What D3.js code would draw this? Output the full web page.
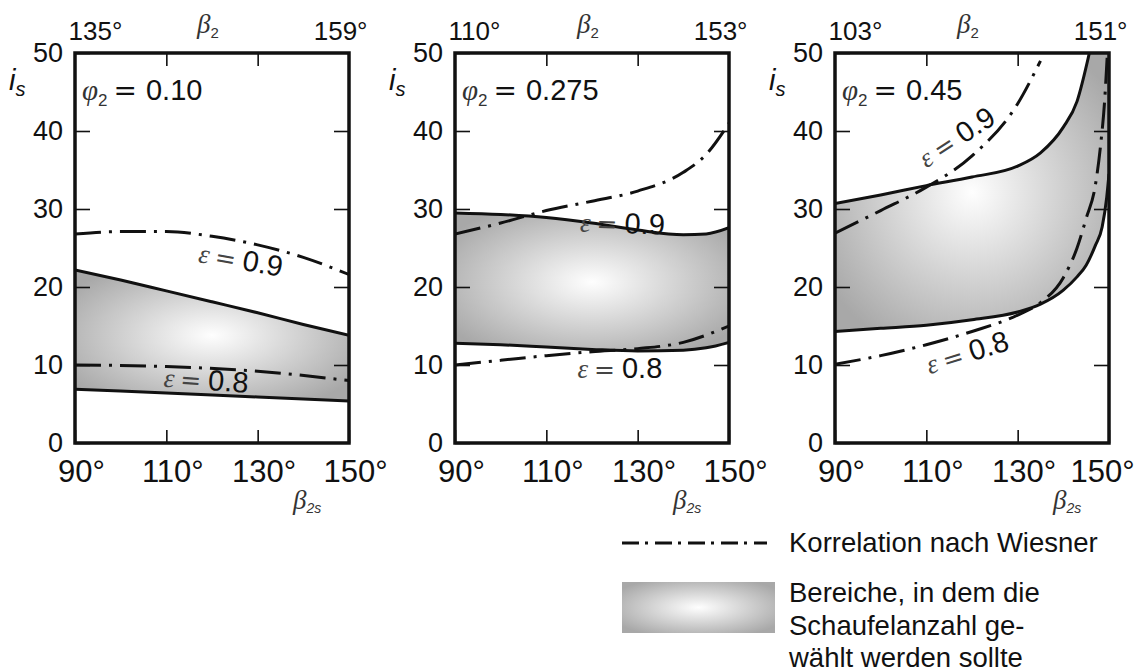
<!DOCTYPE html>
<html><head><meta charset="utf-8">
<script src="https://cdn.jsdelivr.net/npm/d3@7"></script>
<style>
body{margin:0;background:#fff}
svg{display:block}
text{font-family:"Liberation Sans",Arial,Helvetica,sans-serif;fill:#111}
</style>
</head><body>
<svg id="c" width="1143" height="672"></svg>
<script>
// ---------------- data ----------------
const xTicks = [90, 110, 130, 150];          // beta_2s (deg)
const yTicks = [0, 10, 20, 30, 40, 50];      // i_s
const phiLabels = ["0.10", "0.275", "0.45"];
const beta2Ends = [[135, 159], [110, 153], [103, 151]];

// panel 1 (phi2 = 0.10)
const p1UpperX = [90, 100, 110, 120, 130, 140, 150];
const p1Upper  = [22.2, 20.9, 19.5, 18.1, 16.7, 15.2, 13.8];
const p1LowerX = [90, 110, 130, 150];
const p1Lower  = [6.9, 6.4, 5.9, 5.4];
const p1E09X   = [90, 100, 110, 120, 130, 140, 150];
const p1E09    = [26.8, 27.1, 27.1, 26.5, 25.4, 23.8, 21.6];
const p1E08X   = [90, 110, 130, 150];
const p1E08    = [10.0, 9.8, 9.2, 8.0];

// panel 2 (phi2 = 0.275)
const p2UpperX = [90, 100, 110, 120, 130, 140, 145, 150];
const p2Upper  = [29.5, 29.3, 28.9, 28.2, 27.3, 26.7, 26.8, 27.6];
const p2LowerX = [90, 100, 110, 120, 130, 140, 145, 150];
const p2Lower  = [12.8, 12.6, 12.3, 12.0, 11.8, 11.9, 12.2, 12.9];
const p2E09X   = [90, 100, 110, 120, 130, 140, 145, 150];
const p2E09    = [26.8, 28.2, 29.8, 31.0, 32.3, 34.7, 37.0, 41.0];
const p2E08X   = [90, 100, 110, 120, 130, 140, 150];
const p2E08    = [10.0, 10.6, 11.2, 11.7, 12.1, 12.9, 15.0];

// panel 3 (phi2 = 0.45)
const p3UpperX = [90, 100, 110, 120, 130, 135, 140, 143, 145.7];
const p3Upper  = [30.7, 31.8, 33.0, 34.1, 35.5, 37.2, 40.5, 43.8, 50];
const p3LowerX = [90, 100, 110, 120, 130, 135, 140, 143, 145, 147, 148.5, 149.5, 150];
const p3Lower  = [14.3, 14.7, 15.1, 15.8, 16.8, 17.8, 19.6, 21.3, 22.8, 25.3, 27.7, 31.5, 34.5];
const p3E09X   = [90, 100, 110, 120, 130, 135];
const p3E09    = [26.9, 29.8, 32.8, 36.8, 43.5, 49.0];
const p3E08X   = [90, 100, 110, 120, 130, 135, 140, 143, 145, 147, 148.2, 149, 149.6];
const p3E08    = [10.1, 11.2, 12.6, 14.3, 16.4, 18.0, 21.2, 25.0, 28.8, 33.0, 38.4, 43.5, 49.5];

// epsilon labels: [beta_2s, i_s, text]
const epsLabels = [
  [[116.8, 23.2, "0.9"], [109.3, 7.2, "0.8"]],
  [[117.3, 27.1, "0.9"], [116.8, 8.3, "0.8"]],
  [[110.0, 35.2, "0.9"], [110.7, 8.8, "0.8"]]
];
const epsAngles = [[10, 4], [2, 0], [-33, -17]];

const legendItems = ["Korrelation nach Wiesner", "Bereiche, in dem die", "Schaufelanzahl ge-", "wählt werden sollte"];

// ---------------- layout ----------------
const svg = d3.select("#c");
const defs = svg.append("defs");
const PX0 = [75, 455, 835], PW = 274, YB = 443, YT = 53;
const SANS = '"Liberation Sans",Arial,sans-serif';
const SERIF = '"Liberation Serif","DejaVu Serif",serif';

function mkGrad(id) {
  const g = defs.append("radialGradient").attr("id", id)
    .attr("cx", "50%").attr("cy", "50%").attr("r", "62%");
  g.append("stop").attr("offset", "0%").attr("stop-color", "#fefefe");
  g.append("stop").attr("offset", "100%").attr("stop-color", "#a8a8a8");
}

const panels = [
  {up: [p1UpperX, p1Upper], lo: [p1LowerX, p1Lower], e9: [p1E09X, p1E09], e8: [p1E08X, p1E08]},
  {up: [p2UpperX, p2Upper], lo: [p2LowerX, p2Lower], e9: [p2E09X, p2E09], e8: [p2E08X, p2E08]},
  {up: [p3UpperX, p3Upper], lo: [p3LowerX, p3Lower], e9: [p3E09X, p3E09], e8: [p3E08X, p3E08]}
];
const pts = a => a[0].map((v, j) => [v, a[1][j]]);

panels.forEach((p, i) => {
  const x0 = PX0[i], x1 = x0 + PW;
  const x = d3.scaleLinear().domain([90, 150]).range([x0, x1]);
  const y = d3.scaleLinear().domain([0, 50]).range([YB, YT]);
  const g = svg.append("g");
  defs.append("clipPath").attr("id", "clip" + i).append("rect")
    .attr("x", x0).attr("y", YT).attr("width", PW).attr("height", YB - YT);
  mkGrad("grad" + i);
  const line = d3.line().x(d => x(d[0])).y(d => y(d[1])).curve(d3.curveMonotoneX);
  const up = pts(p.up), lo = pts(p.lo);
  let dPath = line(up);
  if (up[up.length - 1][0] < 150) dPath += `L${x(150)},${y(50)}`;
  dPath += "L" + line(lo.slice().reverse()).slice(1) + "Z";
  const cg = g.append("g").attr("clip-path", `url(#clip${i})`);
  cg.append("path").attr("d", dPath).attr("fill", `url(#grad${i})`).attr("stroke", "none");
  [up, lo].forEach(s => cg.append("path").attr("d", line(s)).attr("fill", "none")
    .attr("stroke", "#111").attr("stroke-width", 3));
  [pts(p.e9), pts(p.e8)].forEach(s => cg.append("path").attr("d", line(s)).attr("fill", "none")
    .attr("stroke", "#111").attr("stroke-width", 3).attr("stroke-dasharray", "26,8,3,8"));

  // axes
  const styleAx = a => a.attr("font-family", SANS).attr("font-size", 27)
    .call(s => s.select(".domain").remove())
    .call(s => s.selectAll("line").attr("stroke", "#111").attr("stroke-width", 1.6))
    .call(s => s.selectAll("text").attr("fill", "#111"));
  styleAx(g.append("g").attr("transform", `translate(${x0},0)`)
    .call(d3.axisLeft(y).tickValues(yTicks).tickSizeInner(-15).tickSizeOuter(0).tickPadding(12)));
  styleAx(g.append("g").attr("transform", `translate(${x1},0)`)
    .call(d3.axisRight(y).tickValues(yTicks.slice(1, -1)).tickSizeInner(-15).tickSizeOuter(0).tickFormat("")));
  const bx = g.append("g").attr("transform", `translate(0,${YB})`)
    .call(d3.axisBottom(x).tickValues(xTicks).tickSizeInner(-13).tickSizeOuter(0).tickPadding(17).tickFormat(d => d + "°"));
  styleAx(bx); bx.attr("font-size", 31);
  bx.selectAll("text").attr("dx", (d, j) => (i === 2 && j === 3) ? -7 : 6);
  styleAx(g.append("g").attr("transform", `translate(0,${YT})`)
    .call(d3.axisTop(x).tickValues(xTicks.slice(1, -1)).tickSizeInner(-13).tickSizeOuter(0).tickFormat("")));
  const x2 = d3.scaleLinear().domain(beta2Ends[i]).range([x0, x1]);
  const tx = g.append("g").attr("transform", `translate(0,${YT})`)
    .call(d3.axisTop(x2).tickValues(beta2Ends[i]).tickSize(0).tickPadding(13).tickFormat(d => d + "°"));
  styleAx(tx); tx.attr("font-size", 26);
  tx.selectAll("text").attr("text-anchor", (d, j) => j === 0 ? "start" : "end")
    .attr("dx", (d, j) => j === 0 ? -7 : 18);

  // frame
  g.append("rect").attr("x", x0).attr("y", YT).attr("width", PW).attr("height", YB - YT)
    .attr("fill", "none").attr("stroke", "#111").attr("stroke-width", 3.5);

  // axis titles
  const b2 = g.append("text").attr("x", (x0 + x1) / 2 - 15).attr("y", 33);
  b2.append("tspan").text("β").attr("font-family", SERIF).attr("font-style", "italic").attr("font-size", 27).attr("fill", "#333");
  b2.append("tspan").text("2").attr("font-size", 15).attr("dy", 5).attr("fill", "#333");
  const b2s = g.append("text").attr("x", x1 - 56).attr("y", 509);
  b2s.append("tspan").text("β").attr("font-family", SERIF).attr("font-style", "italic").attr("font-size", 27).attr("fill", "#333");
  b2s.append("tspan").text("2s").attr("font-size", 14).attr("font-style", "italic").attr("dy", 4).attr("fill", "#333");
  const is = g.append("text").attr("x", x0 - 66).attr("y", 90);
  is.append("tspan").text("i").attr("font-style", "italic").attr("font-size", 29);
  is.append("tspan").text("s").attr("font-style", "italic").attr("font-size", 20).attr("dy", 6);

  const ph = g.append("text").attr("x", x0 + 7).attr("y", 100);
  ph.append("tspan").text("φ").attr("font-family", SERIF).attr("font-style", "italic").attr("font-size", 29).attr("fill", "#333");
  ph.append("tspan").text("2").attr("font-size", 17).attr("dy", 6).attr("fill", "#333");
  ph.append("tspan").text("=").attr("font-family", "DejaVu Sans").attr("font-size", 28).attr("dy", -6).attr("dx", 6);
  ph.append("tspan").text(phiLabels[i]).attr("font-size", 29).attr("dx", 9);

  // epsilon labels
  epsLabels[i].forEach((l, j) => {
    const t = g.append("text")
      .attr("transform", `translate(${x(l[0])},${y(l[1])}) rotate(${epsAngles[i][j]})`);
    t.append("tspan").text("ε").attr("font-family", SERIF).attr("font-style", "italic").attr("font-size", 27).attr("fill", "#444");
    t.append("tspan").text("=").attr("font-family", "DejaVu Sans").attr("font-size", 25).attr("dx", 6).attr("fill", "#444");
    t.append("tspan").text(l[2]).attr("font-size", 29).attr("dx", 7);
  });
});

// ---------------- legend ----------------
const lg = svg.append("g");
lg.append("line").attr("x1", 622).attr("x2", 767).attr("y1", 543).attr("y2", 543)
  .attr("stroke", "#111").attr("stroke-width", 3).attr("stroke-dasharray", "17,6,3,7");
lg.append("text").attr("x", 789).attr("y", 552).attr("font-size", 27.5).text(legendItems[0]);
mkGrad("gradLeg");
lg.append("rect").attr("x", 622).attr("y", 582).attr("width", 153).attr("height", 51).attr("fill", "url(#gradLeg)");
[602, 635, 667].forEach((yy, k) =>
  lg.append("text").attr("x", 789).attr("y", yy).attr("font-size", 27.5).text(legendItems[k + 1]));
</script>
</body></html>
